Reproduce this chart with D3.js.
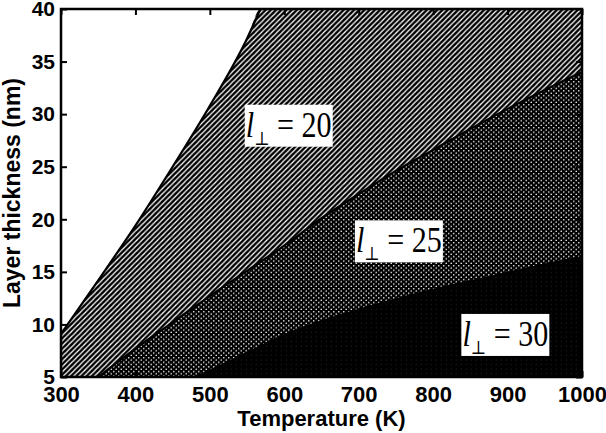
<!DOCTYPE html>
<html>
<head>
<meta charset="utf-8">
<script src="https://cdn.jsdelivr.net/npm/d3@7"></script>
<style>
  body { margin: 0; background: #fff; }
  svg { display: block; }
  .tick text { font-family: "Liberation Sans", Arial, sans-serif; font-weight: bold; }
</style>
</head>
<body>
<div id="chart"></div>
<script>
// data
var xTicks = [300, 400, 500, 600, 700, 800, 900, 1000];
var yTicks = [5, 10, 15, 20, 25, 30, 35, 40];

// l = 20 boundary (white / hatched)
var temps20 = [300, 350, 400, 450, 500, 550, 568];
var thick20 = [9.1, 14.2, 19.4, 25.0, 30.8, 37.2, 40];

// l = 25 boundary (hatched / dotted)
var temps25 = [350, 400, 450, 500, 550, 600, 650, 700, 750, 800, 850, 900, 950, 1000];
var thick25 = [5, 7.7, 10.2, 12.7, 15.1, 17.5, 20.1, 22.4, 24.6, 26.6, 28.6, 30.5, 32.3, 34.0];

// l = 30 boundary (dotted / black)
var temps30 = [480, 500, 550, 600, 650, 700, 750, 800, 850, 900, 950, 1000];
var thick30 = [5, 5.6, 7.3, 9.0, 10.3, 11.4, 12.4, 13.3, 14.1, 14.9, 15.7, 16.4];

// label boxes: value and where it sits (T, thickness)
var labelVals = ["20", "25", "30"];
var labelT = [606, 754, 897];
var labelV = [28.9, 17.9, 9.0];

var width = 606, height = 433;
var margin = {top: 9, right: 24, bottom: 56, left: 61};

var svg = d3.select("#chart").append("svg")
  .attr("width", width)
  .attr("height", height);

var x = d3.scaleLinear().domain([300, 1000]).range([margin.left, width - margin.right]);
var y = d3.scaleLinear().domain([5, 40]).range([height - margin.bottom, margin.top]);

var defs = svg.append("defs");

defs.append("clipPath").attr("id", "plot-clip")
  .append("rect")
  .attr("x", x(300)).attr("y", y(40))
  .attr("width", x(1000) - x(300)).attr("height", y(5) - y(40));

// diagonal hatch
var s = 5.2;
var hatch = defs.append("pattern").attr("id", "hatch")
  .attr("patternUnits", "userSpaceOnUse")
  .attr("width", s).attr("height", s);
hatch.append("rect").attr("width", s).attr("height", s).attr("fill", "#fff");
hatch.append("path")
  .attr("d", `M0,${s} L${s},0 M${-s / 2},${s / 2} L${s / 2},${-s / 2} M${s / 2},${s * 1.5} L${s * 1.5},${s / 2}`)
  .attr("stroke", "#000").attr("stroke-width", 2.4);

// white dots on black
var dots = defs.append("pattern").attr("id", "dots")
  .attr("patternUnits", "userSpaceOnUse")
  .attr("width", 5).attr("height", 4.6);
dots.append("rect").attr("width", 5).attr("height", 4.6).attr("fill", "#000");
dots.append("circle").attr("cx", 1.25).attr("cy", 1.15).attr("r", 0.8).attr("fill", "#fff");
dots.append("circle").attr("cx", 3.75).attr("cy", 3.45).attr("r", 0.8).attr("fill", "#fff");

// faint dots on black
var dark = defs.append("pattern").attr("id", "dark")
  .attr("patternUnits", "userSpaceOnUse")
  .attr("width", 5).attr("height", 4.6);
dark.append("rect").attr("width", 5).attr("height", 4.6).attr("fill", "#000");
dark.append("circle").attr("cx", 1.25).attr("cy", 1.15).attr("r", 0.6).attr("fill", "#222");

function pts(ts, vs) { return ts.map((t, i) => [t, vs[i]]); }

var line = d3.line()
  .x(d => x(d[0]))
  .y(d => y(d[1]))
  .curve(d3.curveMonotoneX);

var area = d3.area()
  .x(d => x(d[0]))
  .y0(y(5))
  .y1(d => y(d[1]))
  .curve(d3.curveMonotoneX);

var plot = svg.append("g").attr("clip-path", "url(#plot-clip)");

var p20 = pts(temps20, thick20).concat([[1000, 40]]);
var p25 = pts(temps25, thick25);
var p30 = pts(temps30, thick30);

plot.append("path").attr("d", area(p20)).attr("fill", "url(#hatch)");
plot.append("path").attr("d", area(p25)).attr("fill", "url(#dots)");
plot.append("path").attr("d", area(p30)).attr("fill", "url(#dark)");

[pts(temps20, thick20), p25, p30].forEach(function(p) {
  plot.append("path").attr("d", line(p))
    .attr("fill", "none").attr("stroke", "#000").attr("stroke-width", 2.2);
});

// labels
labelVals.forEach(function(v, i) {
  var g = svg.append("g")
    .attr("transform", `translate(${x(labelT[i])},${y(labelV[i])})`);
  g.append("rect")
    .attr("x", -44).attr("y", -21)
    .attr("width", 88).attr("height", 42)
    .attr("fill", "#fff");
  var t = g.append("text")
    .attr("transform", "scale(0.86,1)")
    .attr("text-anchor", "middle")
    .attr("y", 11)
    .attr("fill", "#000")
    .attr("font-family", "'Liberation Serif', 'Times New Roman', serif")
    .attr("font-size", 35);
  t.append("tspan").attr("font-style", "italic").text("l");
  t.append("tspan").attr("font-size", 19).attr("dy", 8)
    .attr("font-family", "'DejaVu Serif', serif").attr("fill", "#000").text("⊥");
  t.append("tspan").attr("dy", -8).text(" = " + v);
});

// axes
svg.append("g")
  .attr("transform", `translate(0,${y(5)})`)
  .call(d3.axisBottom(x).tickValues(xTicks).tickSize(-6).tickSizeOuter(0).tickPadding(9).tickFormat(d3.format("d")))
  .call(g => g.selectAll("text").attr("font-size", 22).attr("fill", "#000"))
  .call(g => g.select(".domain").remove());

svg.append("g")
  .attr("transform", `translate(0,${y(40)})`)
  .call(d3.axisTop(x).tickValues(xTicks).tickSize(-6).tickSizeOuter(0).tickFormat(""))
  .call(g => g.select(".domain").remove());

svg.append("g")
  .attr("transform", `translate(${x(300)},0)`)
  .call(d3.axisLeft(y).tickValues(yTicks).tickSize(-6).tickSizeOuter(0).tickPadding(6))
  .call(g => g.selectAll("text").attr("font-size", 21).attr("fill", "#000"))
  .call(g => g.select(".domain").remove());

svg.append("g")
  .attr("transform", `translate(${x(1000)},0)`)
  .call(d3.axisRight(y).tickValues(yTicks).tickSize(-6).tickSizeOuter(0).tickFormat(""))
  .call(g => g.select(".domain").remove());

svg.selectAll(".tick line").attr("stroke", "#000").attr("stroke-width", 2);

// frame
svg.append("rect")
  .attr("x", x(300)).attr("y", y(40))
  .attr("width", x(1000) - x(300)).attr("height", y(5) - y(40))
  .attr("fill", "none").attr("stroke", "#000").attr("stroke-width", 2.5);

// axis titles
svg.append("text")
  .attr("x", (x(300) + x(1000)) / 2)
  .attr("y", height - 7)
  .attr("text-anchor", "middle")
  .attr("font-family", "'Liberation Sans', Arial, sans-serif")
  .attr("font-weight", "bold")
  .attr("font-size", 22)
  .attr("fill", "#000")
  .text("Temperature (K)");

svg.append("text")
  .attr("transform", `translate(20,${(y(5) + y(40)) / 2}) rotate(-90)`)
  .attr("text-anchor", "middle")
  .attr("font-family", "'Liberation Sans', Arial, sans-serif")
  .attr("font-weight", "bold")
  .attr("font-size", 23)
  .attr("fill", "#000")
  .text("Layer thickness (nm)");
</script>
</body>
</html>
